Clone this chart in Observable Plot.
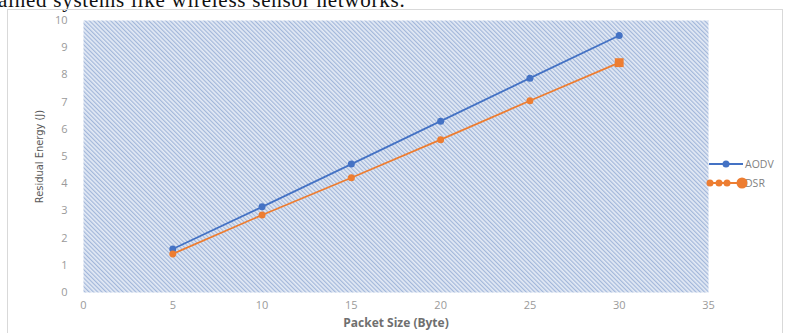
<!DOCTYPE html>
<html>
<head>
<meta charset="utf-8">
<script src="https://cdn.jsdelivr.net/npm/d3@7"></script>
<script src="https://cdn.jsdelivr.net/npm/@observablehq/plot@0.6"></script>
<style>
  html, body { margin: 0; padding: 0; background: #fff; }
  #wrap { position: relative; width: 787px; height: 333px; overflow: hidden; }
  #running { position: absolute; left: -2px; top: -10px; font: 21px/21px "Liberation Serif", "DejaVu Serif", serif; color: #111; white-space: nowrap; letter-spacing: 0.75px; }
  #box { position: absolute; left: 7px; top: 9px; width: 776px; height: 340px; border: 1px solid #d9d9d9; box-sizing: border-box; }
  #chart { position: absolute; left: 0; top: 0; }
  #legend { position: absolute; left: 700px; top: 150px; }
</style>
</head>
<body>
<div id="wrap">
  <div id="running">ained systems like wireless sensor networks.</div>
  <div id="box"></div>
  <div id="chart"></div>
  <svg id="legend" width="87" height="45"></svg>
</div>
<script>
// Packet sizes (bytes) and residual energy (J) per routing protocol
const packetSizes = [5, 10, 15, 20, 25, 30];
const aodvEnergy = [1.6, 3.15, 4.72, 6.3, 7.88, 9.45];
const dsrEnergy = [1.42, 2.85, 4.22, 5.62, 7.05, 8.45];
const xTicks = [0, 5, 10, 15, 20, 25, 30, 35];
const yTicks = [0, 1, 2, 3, 4, 5, 6, 7, 8, 9, 10];
const seriesNames = ["AODV", "DSR"];
const seriesColors = ["#4472c4", "#ed7d31"];

const rows = [
  ...packetSizes.map((x, i) => ({ series: seriesNames[0], size: x, energy: aodvEnergy[i] })),
  ...packetSizes.map((x, i) => ({ series: seriesNames[1], size: x, energy: dsrEnergy[i] }))
];
const aodvRows = rows.filter(d => d.series === "AODV");
const dsrRows = rows.filter(d => d.series === "DSR");

const chart = Plot.plot({
  width: 787,
  height: 333,
  marginLeft: 83,
  marginRight: 79,
  marginTop: 20,
  marginBottom: 41,
  style: { background: "transparent", fontFamily: "'Open Sans', 'DejaVu Sans', sans-serif", fontSize: "11px", color: "#9a9a9a" },
  x: { domain: [0, 35] },
  y: { domain: [0, 10] },
  marks: [
    Plot.frame({ fill: "url(#hatch)", stroke: "none" }),
    Plot.axisX({ ticks: xTicks, tickSize: 0, tickPadding: 9, label: "Packet Size (Byte)", labelAnchor: "center", labelArrow: "none", labelOffset: 34 }),
    Plot.axisY({ ticks: yTicks, tickSize: 0, tickPadding: 16, label: "Residual Energy (J)", labelAnchor: "center", labelArrow: "none", labelOffset: 48 }),
    Plot.line(aodvRows, { x: "size", y: "energy", stroke: seriesColors[0], strokeWidth: 1.8 }),
    Plot.line(dsrRows, { x: "size", y: "energy", stroke: seriesColors[1], strokeWidth: 1.8 }),
    Plot.dot(aodvRows, { x: "size", y: "energy", r: 3.5, fill: seriesColors[0] }),
    Plot.dot(dsrRows, { x: "size", y: "energy", r: 3.5, fill: seriesColors[1] }),
    Plot.dot(dsrRows, { filter: (d, i) => i === dsrRows.length - 1, x: "size", y: "energy", r: 5, symbol: "square", fill: seriesColors[1] })
  ]
});

// diagonal hatch fill for the plotting area
const svg = d3.select(chart);
const defs = svg.insert("defs", ":first-child");
const pat = defs.append("pattern")
  .attr("id", "hatch")
  .attr("patternUnits", "userSpaceOnUse")
  .attr("width", 3)
  .attr("height", 3)
  .attr("patternTransform", "rotate(-45)");
pat.append("rect").attr("width", 3).attr("height", 3).attr("fill", "#e3eaf5");
pat.append("rect").attr("width", 1.2).attr("height", 3).attr("fill", "#a2b7da");

// axis label styling
svg.selectAll("[aria-label='x-axis label'] text")
  .attr("font-weight", "bold").attr("fill", "#6f6f6f").style("font-size", "12px");
svg.selectAll("[aria-label='y-axis label'] text")
  .attr("fill", "#595959").style("font-family", "'Liberation Sans Narrow', 'DejaVu Sans Condensed', sans-serif").style("font-size", "11px");

document.getElementById("chart").appendChild(chart);

// legend
const lg = d3.select("#legend");
const legFont = "'Open Sans', 'DejaVu Sans', sans-serif";
lg.append("line").attr("x1", 9).attr("x2", 43).attr("y1", 14).attr("y2", 14).attr("stroke", seriesColors[0]).attr("stroke-width", 2);
lg.append("circle").attr("cx", 26).attr("cy", 14).attr("r", 3.5).attr("fill", seriesColors[0]);
lg.append("text").attr("x", 45).attr("y", 14).attr("dy", "0.35em").attr("font-family", legFont).attr("font-size", 10.5).attr("fill", "#7f7f7f").text(seriesNames[0]);
lg.append("line").attr("x1", 8).attr("x2", 43).attr("y1", 33).attr("y2", 33).attr("stroke", seriesColors[1]).attr("stroke-width", 2);
[10, 19, 27].forEach(cx => lg.append("circle").attr("cx", cx).attr("cy", 33).attr("r", 3.5).attr("fill", seriesColors[1]));
lg.append("text").attr("x", 45).attr("y", 33).attr("dy", "0.35em").attr("font-family", legFont).attr("font-size", 10.5).attr("fill", "#7f7f7f").text(seriesNames[1]);
lg.append("circle").attr("cx", 42).attr("cy", 33).attr("r", 5.5).attr("fill", seriesColors[1]);
</script>
</body>
</html>
